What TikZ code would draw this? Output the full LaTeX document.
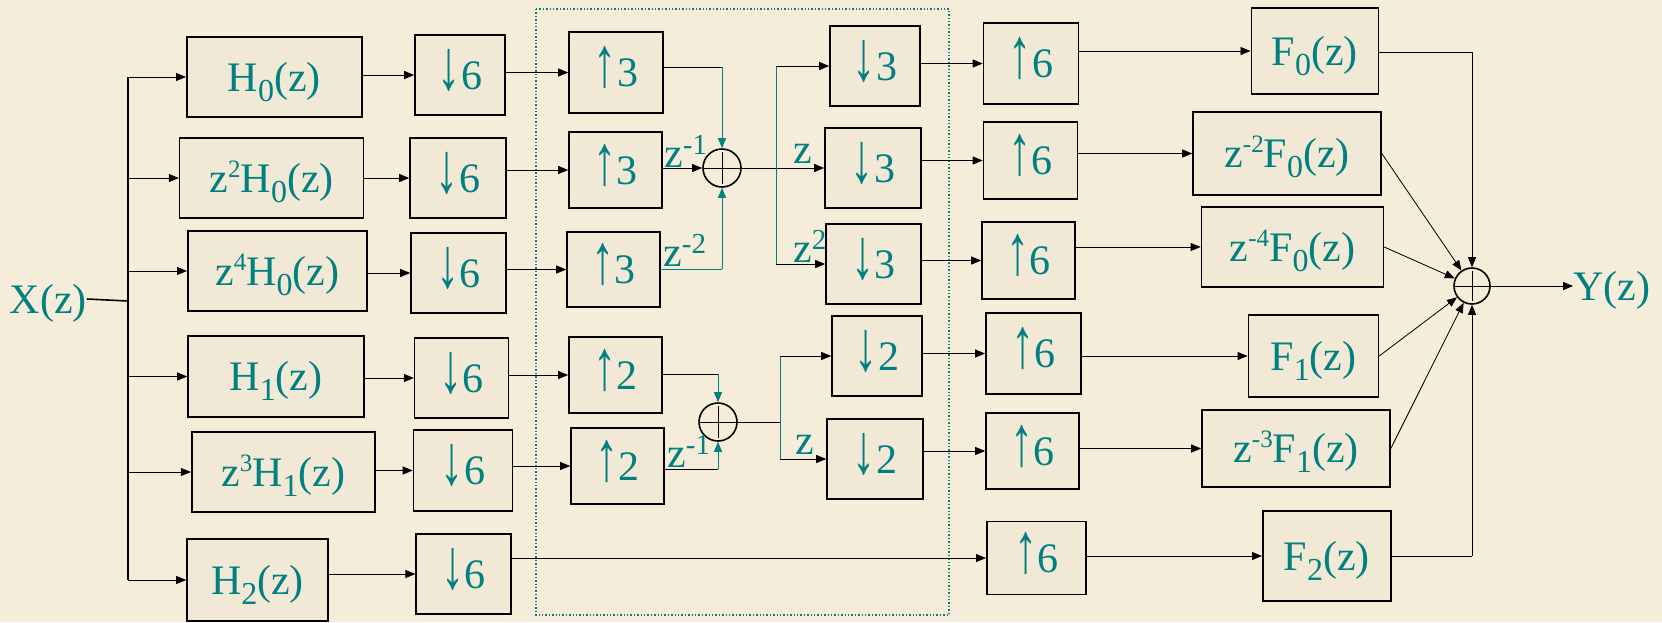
\documentclass[tikz,border=0pt]{standalone}
\usepackage{fontspec}
\setmainfont{Liberation Serif}
\usetikzlibrary{arrows.meta}
\definecolor{bg}{HTML}{F5EDDA}
\definecolor{boxfill}{HTML}{F1E8D6}
\definecolor{tl}{HTML}{008080}
\newcommand\sbx[1]{\raisebox{-10pt}{\fontsize{32}{32}\selectfont #1}}
\newcommand\spx[1]{\raisebox{15pt}{\fontsize{25}{25}\selectfont #1}}
\newcommand\spl[1]{\raisebox{13pt}{\fontsize{29}{29}\selectfont #1}}
\newcommand\dn{\scalebox{1.1}[1.7]{↓}}
\newcommand\up{\scalebox{1.1}[1.7]{↑}}
\tikzset{
  box/.style={draw=black, line width=1.6pt, fill=boxfill, text=tl, inner sep=0pt,
    text height=28pt, text depth=0pt, font=\fontsize{42}{46}\selectfont},
  arr/.style={-{Triangle[length=10pt,width=8pt]}, line width=0.8pt, draw=black},
  tarr/.style={-{Triangle[length=10pt,width=8pt]}, line width=1pt, draw=tl},
  wire/.style={line width=0.8pt, draw=black},
  twire/.style={line width=1pt, draw=tl},
  sum/.style={circle, draw=black, line width=1.6pt, inner sep=0pt,
    path picture={\draw[line width=0.7pt, shorten >=3pt, shorten <=3pt]
      (path picture bounding box.west) -- (path picture bounding box.east)
      (path picture bounding box.north) -- (path picture bounding box.south);}},
  lbl/.style={text=tl, inner sep=0pt, font=\fontsize{42}{46}\selectfont, anchor=base west},
}
\begin{document}
\begin{tikzpicture}[x=1pt,y=-1pt]
\fill[bg] (0,0) rectangle (1662,622);
\useasboundingbox (0,0) rectangle (1662,622);

% dotted frame
\draw[tl, line width=1.6pt, dash pattern=on 1.4pt off 2pt] (536,9) rectangle (949,615);

% input
\node[text=tl, inner sep=0pt, text height=28pt, text depth=0pt, font=\fontsize{42}{46}\selectfont, anchor=east] (X) at (87,299) {X(z)};
\coordinate (trunk) at (128,301);

% analysis filters
\node[box, minimum width=175, minimum height=80] (H0)  at (274.3,77)   {H\sbx{0}(z)};
\node[box, minimum width=184, minimum height=80] (H01) at (271.6,178)  {z\spx{2}H\sbx{0}(z)};
\node[box, minimum width=179, minimum height=80] (H02) at (277.3,271)  {z\spx{4}H\sbx{0}(z)};
\node[box, minimum width=176, minimum height=81] (H1)  at (276,376.5)  {H\sbx{1}(z)};
\node[box, minimum width=183, minimum height=80] (H11) at (283.2,472)  {z\spx{3}H\sbx{1}(z)};
\node[box, minimum width=141, minimum height=82] (H2)  at (257.5,580)  {H\sbx{2}(z)};

% down 6
\node[box, minimum width=90, minimum height=80] (d60) at (460,75)     {\dn6};
\node[box, minimum width=96, minimum height=80] (d61) at (458,178)    {\dn6};
\node[box, minimum width=95, minimum height=80] (d62) at (458.5,273)  {\dn6};
\node[box, minimum width=94, minimum height=80] (d63) at (461.6,378)  {\dn6};
\node[box, minimum width=99, minimum height=81] (d64) at (463,470.5)  {\dn6};
\node[box, minimum width=95, minimum height=80] (d65) at (463.7,574)  {\dn6};

% up 3 / up 2
\node[box, minimum width=94, minimum height=81] (u30) at (616,72.5)   {\up3};
\node[box, minimum width=93, minimum height=76] (u31) at (615.5,170)  {\up3};
\node[box, minimum width=93, minimum height=75] (u32) at (613.5,269.5){\up3};
\node[box, minimum width=93, minimum height=76] (u20) at (615.5,375)  {\up2};
\node[box, minimum width=93, minimum height=76] (u21) at (617.5,466)  {\up2};

% adders
\node[sum, minimum size=38] (s1) at (722,168) {};
\node[sum, minimum size=38] (s3) at (718,422) {};
\node[sum, minimum size=36] (s2) at (1472,286) {};

% down 3 / down 2
\node[box, minimum width=90, minimum height=80] (d30) at (875,66)    {\dn3};
\node[box, minimum width=96, minimum height=80] (d31) at (873,168)   {\dn3};
\node[box, minimum width=95, minimum height=80] (d32) at (873.5,264) {\dn3};
\node[box, minimum width=90, minimum height=80] (d20) at (877,356)   {\dn2};
\node[box, minimum width=96, minimum height=80] (d21) at (875,459)   {\dn2};

% up 6
\node[box, minimum width=95, minimum height=81] (u60) at (1031,63.5)    {\up6};
\node[box, minimum width=94, minimum height=77] (u61) at (1030.5,160.5) {\up6};
\node[box, minimum width=93, minimum height=77] (u62) at (1028.5,260.5) {\up6};
\node[box, minimum width=95, minimum height=81] (u63) at (1033.4,353.5) {\up6};
\node[box, minimum width=93, minimum height=76] (u64) at (1032.5,451)   {\up6};
\node[box, minimum width=99, minimum height=73] (u65) at (1036.3,558)   {\up6};

% synthesis filters
\node[box, minimum width=127, minimum height=86] (F0)  at (1314.8,51)   {F\sbx{0}(z)};
\node[box, minimum width=188, minimum height=83] (F01) at (1287,153.5)  {z\spx{-2}F\sbx{0}(z)};
\node[box, minimum width=182, minimum height=80] (F02) at (1292.4,247)  {z\spx{-4}F\sbx{0}(z)};
\node[box, minimum width=130, minimum height=82] (F1)  at (1313.4,356)  {F\sbx{1}(z)};
\node[box, minimum width=188, minimum height=77] (F11) at (1296,448.5)  {z\spx{-3}F\sbx{1}(z)};
\node[box, minimum width=128, minimum height=90] (F2)  at (1326.8,556)  {F\sbx{2}(z)};

% output
\node[text=tl, inner sep=0pt, text height=28pt, text depth=0pt, font=\fontsize{42}{46}\selectfont, anchor=west] (Y) at (1573,286) {Y(z)};

% --- connectors: input trunk
\draw[line width=1.6pt] (X.east) -- (trunk);
\draw[line width=1.6pt] (trunk |- H0.west) -- (trunk |- H2.west);
\foreach \n in {H0,H01,H02,H1,H11,H2}
  \draw[arr] (trunk |- \n.west) -- (\n.west);

% H -> down6
\draw[arr] (H0.east |- d60.west) -- (d60.west);
\draw[arr] (H01.east |- d61.west) -- (d61.west);
\draw[arr] (H02.east |- d62.west) -- (d62.west);
\draw[arr] (H1.east |- d63.west) -- (d63.west);
\draw[arr] (H11.east |- d64.west) -- (d64.west);
\draw[arr] (H2.east |- d65.west) -- (d65.west);

% down6 -> up3/up2/up6
\draw[arr] (d60.east |- u30.west) -- (u30.west);
\draw[arr] (d61.east |- u31.west) -- (u31.west);
\draw[arr] (d62.east |- u32.west) -- (u32.west);
\draw[arr] (d63.east |- u20.west) -- (u20.west);
\draw[arr] (d64.east |- u21.west) -- (u21.west);
\draw[arr] (d65.east |- u65.west) -- (u65.west);

% up3 -> adder 1
\coordinate (b1) at (722,67);
\coordinate (b2) at (722,269);
\draw[wire] (u30.east |- b1) -- (b1);
\draw[tarr] (b1) -- (s1.north);
\draw[arr] (u31.east |- s1.west) -- (s1.west);
\draw[twire] (u32.east |- b2) -- (b2);
\draw[tarr] (b2) -- (s1.south);
\node[lbl] (l1) at (664,167) {z\spl{-1}};
\node[lbl] (l2) at (663,266) {z\spl{-2}};

% adder 1 -> down3
\coordinate (br1) at (776,168);
\draw[arr] (s1.east) -- (d31.west);
\draw[twire] (br1 |- d30.west) -- (br1 |- d32.west);
\draw[arr] (br1 |- d30.west) -- (d30.west);
\draw[arr] (br1 |- d32.west) -- (d32.west);
\node[lbl] (l3) at (793,163) {z};
\node[lbl] (l4) at (793,262) {z\spl{2}};

% up2 -> adder 3
\coordinate (b3) at (718,374);
\coordinate (b4) at (718,469);
\draw[wire] (u20.east |- b3) -- (b3);
\draw[tarr] (b3) -- (s3.north);
\draw[wire] (u21.east |- b4) -- (b4);
\draw[tarr] (b4) -- (s3.south);
\node[lbl] (l5) at (667,467) {z\spl{-1}};

% adder 3 -> down2
\coordinate (br2) at (780,422);
\draw[wire] (s3.east) -- (br2);
\draw[twire] (br2 |- d20.west) -- (br2 |- d21.west);
\draw[arr] (br2 |- d20.west) -- (d20.west);
\draw[arr] (br2 |- d21.west) -- (d21.west);
\node[lbl] (l6) at (795,454) {z};

% down3/down2 -> up6
\draw[arr] (d30.east |- u60.west) -- (u60.west);
\draw[arr] (d31.east |- u61.west) -- (u61.west);
\draw[arr] (d32.east |- u62.west) -- (u62.west);
\draw[arr] (d20.east |- u63.west) -- (u63.west);
\draw[arr] (d21.east |- u64.west) -- (u64.west);

% up6 -> F
\draw[arr] (u60.east |- F0.west) -- (F0.west);
\draw[arr] (u61.east |- F01.west) -- (F01.west);
\draw[arr] (u62.east |- F02.west) -- (F02.west);
\draw[arr] (u63.east |- F1.west) -- (F1.west);
\draw[arr] (u64.east |- F11.west) -- (F11.west);
\draw[arr] (u65.east |- F2.west) -- (F2.west);

% F -> adder 2
\coordinate (b5) at (1472,52);
\coordinate (b6) at (1472,556);
\draw[wire] (F0.east |- b5) -- (b5);
\draw[arr] (b5) -- (s2.north);
\draw[arr] (F01.east) -- (s2);
\draw[arr] (F02.east) -- (s2);
\draw[arr] (F1.east) -- (s2);
\draw[arr] (F11.east) -- (s2);
\draw[wire] (F2.east |- b6) -- (b6);
\draw[arr] (b6) -- (s2.south);
\draw[arr] (s2.east) -- (Y.west);
\end{tikzpicture}
\end{document}
